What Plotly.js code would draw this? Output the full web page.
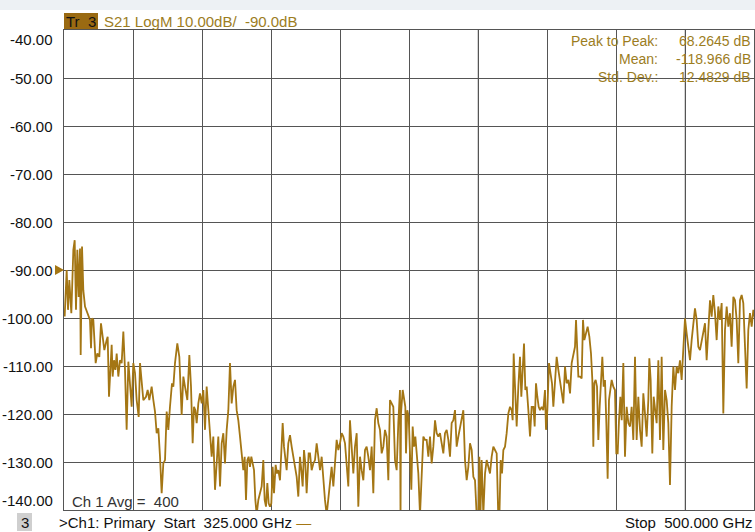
<!DOCTYPE html>
<html>
<head>
<meta charset="utf-8">
<script src="https://cdn.plot.ly/plotly-3.0.1.min.js"></script>
<style>html,body{margin:0;padding:0;background:#fff;}#chart{width:755px;height:532px;}</style>
</head>
<body>
<div id="chart"></div>
<script>
// ---- data: [frequency GHz, S21 dB] ----
const seg1 = [[325.17,-99.7],[325.68,-90.0],[326.02,-98.3],[326.35,-92.1],[326.86,-99.0],[327.37,-85.8],[327.71,-83.8],[328.04,-98.3],[328.38,-85.8],[328.72,-95.6],[329.06,-85.5],[329.23,-107.7],[329.57,-85.1],[329.90,-94.2],[330.33,-97.6],[331.17,-99.4],[331.59,-100.4],[331.85,-106.3],[332.10,-100.1],[332.44,-100.4],[332.78,-104.6],[333.03,-109.4],[333.45,-107.4],[333.96,-108.1],[334.38,-101.1],[334.81,-104.6],[335.23,-106.7],[335.82,-104.6],[336.08,-103.9],[336.41,-116.4],[336.75,-109.4],[337.09,-105.6],[337.34,-112.2],[337.68,-108.8],[338.02,-110.8],[338.36,-107.4],[338.78,-112.2],[339.20,-108.8],[339.63,-109.4],[340.05,-102.8],[340.47,-110.8],[340.89,-123.3],[341.32,-109.1],[341.74,-113.6],[342.16,-118.5],[342.58,-109.4],[343.01,-111.5],[343.43,-117.1],[343.94,-120.6],[344.28,-109.4],[344.70,-114.3],[345.12,-117.1],[345.80,-116.4],[346.22,-115.0],[346.64,-117.1],[347.23,-114.3],[347.66,-117.1],[348.08,-119.5],[348.50,-124.0],[348.93,-123.0],[349.35,-128.9],[349.77,-136.5],[350.19,-130.3],[350.62,-129.6],[351.04,-119.5],[351.46,-123.3],[351.88,-118.5],[352.39,-113.6],[352.73,-114.3],[353.15,-109.4],[353.74,-105.3],[354.25,-108.1],[354.84,-120.2],[355.27,-112.2],[355.69,-114.3],[356.28,-117.1],[356.79,-107.7],[357.21,-114.3],[357.63,-126.1],[357.97,-118.5],[358.31,-119.2],[358.65,-121.9],[359.07,-117.8],[359.49,-115.7],[359.92,-117.8],[360.34,-115.0],[360.76,-123.3],[361.18,-114.3],[361.61,-119.2],[362.03,-123.3],[362.45,-128.9],[362.87,-124.7],[363.30,-135.8],[363.72,-130.3],[364.14,-124.7],[364.57,-135.1],[364.99,-126.1],[365.41,-124.0],[365.83,-130.3],[366.26,-123.3],[366.68,-119.2],[367.10,-109.4]];
const seg2 = [[367.52,-117.8],[367.95,-114.3],[368.37,-112.9],[368.79,-119.2],[369.21,-121.3],[369.64,-124.7],[370.06,-128.9],[370.48,-131.7],[370.82,-128.9],[371.16,-137.9],[371.50,-129.6],[371.83,-128.9],[372.17,-131.0],[372.51,-128.9],[372.85,-130.3],[373.19,-131.7],[373.53,-137.9],[373.86,-141.0],[374.29,-137.9],[374.71,-136.5],[375.13,-135.1],[375.55,-129.6],[375.89,-137.9],[376.23,-139.3],[376.57,-134.4],[376.91,-138.6],[377.24,-139.3],[377.58,-138.6],[377.92,-131.0],[378.26,-136.5],[378.68,-130.6],[379.02,-132.4],[379.36,-131.7],[379.78,-133.8],[380.20,-125.8],[380.46,-121.9],[380.80,-126.8],[381.13,-129.6],[381.47,-131.7],[381.89,-126.1],[382.32,-124.4],[382.74,-126.8],[383.16,-128.9],[383.59,-131.0],[384.01,-133.1],[384.43,-137.2],[384.85,-128.9],[385.19,-131.7],[385.53,-135.1],[385.87,-127.5],[386.21,-130.3],[386.54,-136.5],[387.05,-128.2],[387.39,-128.2],[387.81,-131.7],[388.24,-130.3],[388.66,-129.6],[389.08,-126.1],[389.50,-128.9],[389.93,-131.7],[390.35,-128.9],[390.77,-133.8],[391.19,-137.9],[391.62,-141.0],[392.04,-137.9],[392.46,-133.8],[392.88,-131.0],[393.31,-135.1],[393.73,-131.0],[394.15,-125.4],[394.58,-127.5],[395.00,-126.1],[395.42,-124.0],[395.84,-124.7],[396.27,-126.1],[396.69,-131.0],[397.11,-135.1],[397.53,-121.3],[397.96,-126.8],[398.38,-132.4],[398.80,-126.8],[399.23,-124.0],[399.65,-139.3],[400.07,-128.9],[400.49,-131.7],[400.92,-133.8],[401.34,-127.5],[401.76,-126.8],[402.18,-128.9],[402.61,-131.7],[403.03,-126.8],[403.45,-136.5],[403.87,-121.3],[404.30,-118.8],[404.72,-121.9],[405.14,-123.3],[405.57,-128.2],[405.99,-126.8],[406.41,-123.3],[406.83,-124.7],[407.26,-133.8],[407.68,-117.1],[408.10,-117.8],[408.52,-118.5],[408.95,-129.6],[409.37,-131.7],[409.79,-121.9],[410.21,-115.0]];
const seg3 = [[410.35,-142.0],[410.47,-119.9],[410.90,-115.0],[411.23,-117.1],[411.57,-118.5],[411.74,-128.2],[412.08,-119.2],[412.42,-120.6],[412.76,-128.2],[413.09,-135.8],[413.43,-122.6],[413.77,-126.8],[414.11,-124.7],[414.45,-128.9],[414.87,-132.4],[415.29,-141.0],[415.72,-131.0],[416.14,-124.7],[416.56,-125.4],[416.98,-125.4],[417.41,-128.9],[417.83,-124.7],[418.25,-130.3],[418.67,-126.8],[419.10,-121.3],[419.52,-124.0],[419.94,-124.7],[420.36,-124.0],[420.79,-126.1],[421.21,-128.2],[421.63,-124.0],[422.06,-123.3],[422.48,-125.4],[422.90,-128.9],[423.32,-121.9],[423.75,-121.3],[424.17,-119.2],[424.59,-126.8],[425.01,-124.7],[425.44,-122.6],[425.86,-120.6],[426.28,-119.2],[426.70,-129.6],[427.13,-133.8],[427.55,-131.0],[427.97,-126.1],[428.40,-127.5],[428.82,-133.1],[429.24,-133.8],[429.66,-141.0],[430.09,-142.0],[430.34,-128.9],[430.59,-142.0],[430.93,-129.6],[431.35,-141.0],[431.78,-132.4],[432.20,-129.6],[432.62,-131.0],[433.04,-132.4],[433.47,-128.9],[433.89,-126.8],[434.31,-127.5],[434.74,-128.2],[435.16,-142.0],[435.41,-142.0],[435.75,-129.6],[436.09,-132.4],[436.43,-127.5],[436.85,-126.8],[437.27,-124.0],[437.70,-119.9],[438.12,-118.5],[438.54,-119.2],[438.79,-121.3],[439.05,-107.4],[439.39,-114.3],[439.81,-122.6],[440.23,-114.3],[440.65,-108.1],[440.99,-116.4],[441.33,-110.1],[441.67,-105.3],[442.01,-115.0],[442.35,-114.3],[442.77,-119.2],[443.19,-124.7],[443.61,-118.5],[444.04,-118.5],[444.37,-122.6],[444.71,-113.6],[445.05,-116.4],[445.39,-118.5],[445.73,-119.2],[446.15,-118.5],[446.57,-119.2],[446.99,-115.0],[447.25,-123.3],[447.59,-119.2],[448.01,-109.4],[448.43,-111.5],[448.77,-113.6],[449.11,-118.5],[449.53,-112.2],[449.95,-108.1],[450.38,-110.8],[450.80,-112.9],[451.22,-115.0],[451.64,-117.8],[452.07,-110.1],[452.49,-113.6],[452.91,-112.9],[453.34,-115.7],[453.76,-109.4],[454.18,-107.4],[454.60,-106.0],[454.86,-100.4],[455.20,-106.0]];
const seg4 = [[455.45,-112.2],[455.87,-112.2],[456.29,-112.6],[456.63,-100.4],[456.97,-104.6],[457.39,-103.2],[457.81,-101.8],[458.24,-103.9],[458.66,-107.4],[459.00,-112.9],[459.25,-126.8],[459.50,-113.6],[459.84,-112.9],[460.18,-114.3],[460.52,-125.4],[460.86,-118.5],[461.19,-111.5],[461.53,-108.1],[461.87,-114.3],[462.21,-112.9],[462.55,-121.9],[462.88,-133.5],[463.22,-117.1],[463.56,-115.0],[463.90,-112.9],[464.32,-114.3],[464.74,-115.0],[465.08,-128.2],[465.42,-128.2],[465.76,-121.3],[466.10,-116.4],[466.44,-121.3],[466.86,-109.4],[467.28,-128.9],[467.70,-118.5],[468.13,-121.9],[468.55,-122.6],[468.97,-118.5],[469.39,-125.4],[469.82,-108.1],[470.24,-125.4],[470.66,-116.4],[471.09,-123.3],[471.51,-126.8],[471.93,-115.7],[472.35,-119.9],[472.78,-124.7],[473.20,-117.1],[473.45,-108.4],[473.79,-112.9],[474.21,-128.2],[474.55,-116.4],[474.89,-118.5],[475.31,-121.9],[475.74,-108.8],[476.16,-125.4],[476.58,-108.1],[477.00,-127.5],[477.43,-115.0],[477.85,-117.1],[478.27,-121.9],[478.69,-134.8],[479.12,-118.5],[479.54,-110.1],[479.96,-115.0],[480.38,-110.1],[480.81,-111.5],[481.23,-108.8],[481.65,-112.9],[482.08,-107.4],[482.50,-100.1],[482.92,-103.2],[483.34,-106.0],[483.77,-108.8],[484.19,-104.6],[484.61,-101.1],[485.03,-98.0],[485.46,-100.4],[485.88,-106.0],[486.30,-106.7],[486.73,-104.6],[487.15,-103.2],[487.57,-101.1],[487.99,-108.8],[488.42,-102.5],[488.84,-96.3],[489.26,-99.7],[489.68,-95.2],[490.11,-99.0],[490.53,-104.6],[490.95,-97.6],[491.37,-100.4],[491.80,-96.9],[492.22,-119.9],[492.64,-102.5],[493.07,-97.6],[493.49,-101.8],[493.91,-99.0],[494.33,-106.0],[494.76,-95.6],[495.18,-96.3],[495.60,-100.4],[496.02,-109.4],[496.45,-96.3],[496.87,-95.2],[497.29,-96.9],[497.72,-106.0],[498.14,-114.7],[498.56,-102.5],[498.98,-99.0],[499.41,-101.8],[499.83,-98.3],[500.00,-99.7]];

const yTickVals = [-40,-50,-60,-70,-80,-90,-100,-110,-120,-130,-140];
const yTickText = ["-40.00","-50.00","-60.00","-70.00","-80.00","-90.00","-100.00","-110.00","-120.00","-130.00","-140.00"];
const statLabels = ["Peak to Peak:","Mean:","Std. Dev.:"];
const statValues = ["68.2645 dB","-118.966 dB","12.4829 dB"];
const startGHz = 325, stopGHz = 500, refLevel = -90;

// ---- build ----
const pts = seg1.concat(seg2, seg3, seg4);
const xs = pts.map(p => p[0]);
const ys = pts.map(p => p[1]);

const FONT = "Liberation Sans, Arial, sans-serif";
const GOLD = "#a47614";
const TXTGOLD = "#9c7d1e";

const trace = {
  x: xs, y: ys, type: "scatter", mode: "lines",
  line: {color: GOLD, width: 1.8}, hoverinfo: "skip", showlegend: false
};

const annotations = [];
yTickVals.forEach((v, i) => {
  let ysh = 0;
  if (i === 0) ysh = -9;
  if (i === yTickVals.length - 1) ysh = 10;
  annotations.push({xref: "paper", yref: "y", x: 0, y: v, xanchor: "right", yanchor: "middle",
    xshift: -9, yshift: ysh, text: yTickText[i], showarrow: false,
    font: {family: FONT, size: 15, color: "#111"}});
});
const statShifts = [-11, -29, -47];
statLabels.forEach((t, i) => {
  annotations.push({xref: "paper", yref: "paper", x: (660-64)/690, y: 1, xanchor: "right", yanchor: "middle",
    yshift: statShifts[i], text: t, showarrow: false, font: {family: FONT, size: 14, color: TXTGOLD}});
  annotations.push({xref: "paper", yref: "paper", x: 1, y: 1, xanchor: "right", yanchor: "middle",
    xshift: -1, yshift: statShifts[i], text: statValues[i], showarrow: false, font: {family: FONT, size: 14, color: TXTGOLD}});
});
annotations.push({xref: "paper", yref: "paper", x: 0, y: 1, xanchor: "left", yanchor: "middle",
  xshift: 0, yshift: 9, text: "Tr\u00a0\u00a03", showarrow: false, font: {family: FONT, size: 15, color: "#111"}});
annotations.push({xref: "paper", yref: "paper", x: 0, y: 1, xanchor: "left", yanchor: "middle",
  xshift: 38, yshift: 9, text: "S21 LogM 10.00dB/\u00a0\u00a0" + refLevel.toFixed(1) + "dB", showarrow: false,
  font: {family: FONT, size: 15, color: TXTGOLD}});
annotations.push({xref: "paper", yref: "paper", x: 0, y: 0, xanchor: "left", yanchor: "middle",
  xshift: 6, yshift: 9, text: "Ch 1 Avg =\u00a0\u00a0400", showarrow: false,
  font: {family: FONT, size: 15, color: "#333"}});
annotations.push({xref: "paper", yref: "paper", x: 0, y: 0, xanchor: "center", yanchor: "middle",
  xshift: -39.5, yshift: -12, text: "3", showarrow: false, font: {family: FONT, size: 15, color: "#111"}});
annotations.push({xref: "paper", yref: "paper", x: 0, y: 0, xanchor: "left", yanchor: "middle",
  xshift: -7, yshift: -12,
  text: ">Ch1: Primary\u00a0\u00a0Start\u00a0\u00a0" + startGHz.toFixed(3) + " GHz <span style=\"color:" + GOLD + "\">\u2014</span>",
  showarrow: false, font: {family: FONT, size: 15, color: "#111"}});
annotations.push({xref: "paper", yref: "paper", x: 1, y: 0, xanchor: "right", yanchor: "middle",
  xshift: 1, yshift: -12, text: "Stop\u00a0\u00a0" + stopGHz.toFixed(3) + " GHz", showarrow: false,
  font: {family: FONT, size: 15, color: "#111"}});

const shapes = [
  // top light strip
  {type: "rect", xref: "paper", yref: "paper", x0: -0.1, x1: 1.01, ysizemode: "pixel", yanchor: 1, y0: 20, y1: 31,
   fillcolor: "#edf1f4", line: {width: 0}, layer: "below"},
  // Tr 3 box
  {type: "rect", xref: "paper", yref: "paper", xsizemode: "pixel", xanchor: 0, x0: 0, x1: 34,
   ysizemode: "pixel", yanchor: 1, y0: 1, y1: 17, fillcolor: "#9a6a12", line: {width: 0}},
  // channel "3" box
  {type: "rect", xref: "paper", yref: "paper", xsizemode: "pixel", xanchor: 0, x0: -47, x1: -32,
   ysizemode: "pixel", yanchor: 0, y0: -3, y1: -21, fillcolor: "#cfcfcf", line: {width: 0}},
  // lighter grid lines
  {type: "line", xref: "x", yref: "paper", x0: startGHz + 6*17.5, x1: startGHz + 6*17.5, y0: 0, y1: 1,
   line: {color: "#a8a8a8", width: 1}, layer: "below"},
  {type: "line", xref: "x", yref: "paper", x0: startGHz + 9*17.5, x1: startGHz + 9*17.5, y0: 0, y1: 1,
   line: {color: "#a8a8a8", width: 1}, layer: "below"},
  // reference level marker
  {type: "path", xref: "paper", xsizemode: "pixel", xanchor: 0, yref: "y", ysizemode: "pixel", yanchor: refLevel,
   path: "M -9 5 L 0 0 L -9 -5 Z", fillcolor: GOLD, line: {width: 0}}
];

const layout = {
  width: 755, height: 532,
  margin: {l: 64, r: 1, t: 30, b: 22, pad: 0},
  paper_bgcolor: "#ffffff", plot_bgcolor: "#ffffff",
  showlegend: false,
  font: {family: FONT},
  xaxis: {range: [startGHz, stopGHz], tick0: startGHz, dtick: (stopGHz - startGHz)/10, showticklabels: false,
          ticks: "", showgrid: true, gridcolor: "#555", gridwidth: 1, zeroline: false,
          showline: true, mirror: true, linecolor: "#555", linewidth: 1, fixedrange: true},
  yaxis: {range: [-140, -40], tickvals: yTickVals, showticklabels: false, ticks: "",
          showgrid: true, gridcolor: "#555", gridwidth: 1, zeroline: false,
          showline: true, mirror: true, linecolor: "#555", linewidth: 1, fixedrange: true},
  annotations: annotations,
  shapes: shapes
};

Plotly.newPlot("chart", [trace], layout, {staticPlot: true, displayModeBar: false});
</script>
</body>
</html>
